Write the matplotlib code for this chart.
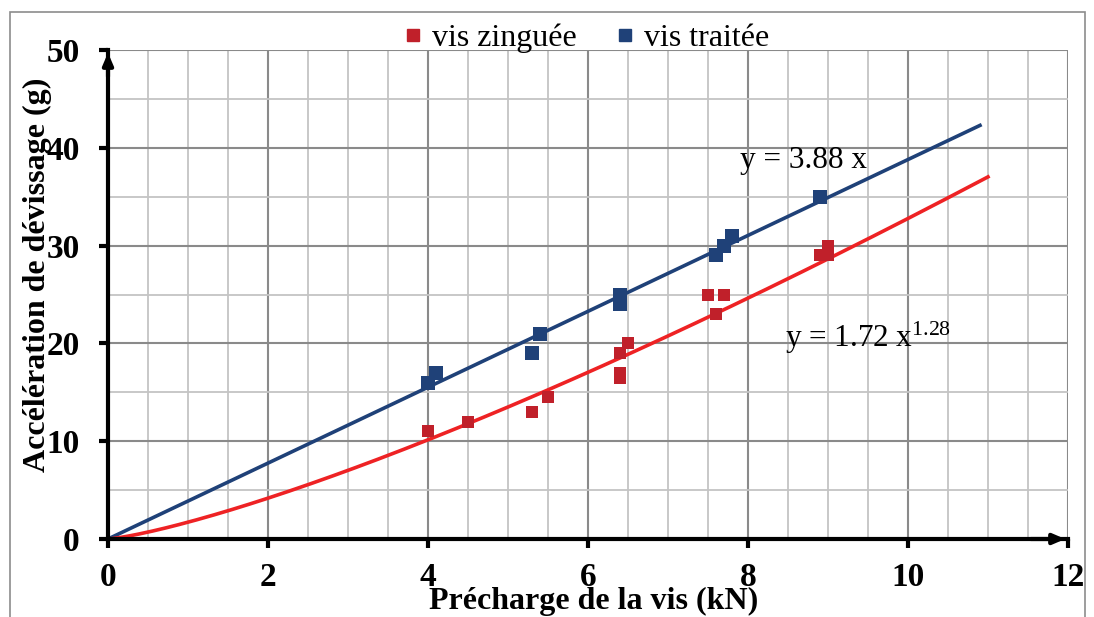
import matplotlib.pyplot as plt
import numpy as np
from matplotlib.patches import Rectangle
from matplotlib.lines import Line2D

plt.rcParams['font.family'] = ['Liberation Serif', 'DejaVu Serif']
plt.rcParams['mathtext.fontset'] = 'custom'
plt.rcParams['mathtext.rm'] = 'Liberation Serif'
plt.rcParams['mathtext.it'] = 'Liberation Serif:italic'

# vis zinguee (red squares)
x_zing = [4.0, 4.5, 5.3, 5.5, 6.4, 6.4, 6.4, 6.5, 7.5, 7.6, 7.7, 8.9, 9.0, 9.0]
y_zing = [11, 12, 13, 14.5, 19, 17, 16.5, 20, 25, 23, 25, 29, 30, 29]

# vis traitee (blue squares)
x_trait = [4.0, 4.1, 5.3, 5.4, 6.4, 6.4, 7.6, 7.7, 7.8, 8.9]
y_trait = [16, 17, 19, 21, 25, 24, 29, 30, 31, 35]

# trendlines as printed on the chart
a_trait = 3.88
a_zing, b_zing = 1.72, 1.28
x_end_trait = 10.9
x_end_zing = 11.0

red_pt = '#c0202a'
red_line = '#ee2224'
blue = '#1f4178'

fig = plt.figure(figsize=(10.94, 6.17), dpi=100)
ax = fig.add_axes([108/1094, 78/617, 960/1094, 489/617])

# outer frame
fig.patches.append(Rectangle((10/1094, -0.1), 1075/1094, 0.1 + 605/617,
                             transform=fig.transFigure, fill=False,
                             edgecolor='#8c8c8c', lw=1.2, zorder=0))

xt = np.linspace(0, x_end_trait, 200)
xz = np.linspace(0, x_end_zing, 200)
ax.plot(xt, a_trait * xt, color=blue, lw=2.6, zorder=3)
ax.plot(xz, a_zing * xz ** b_zing, color=red_line, lw=2.6, zorder=3)

ax.scatter(x_zing, y_zing, marker='s', s=65, color=red_pt, zorder=4, linewidths=0)
ax.scatter(x_trait, y_trait, marker='s', s=95, color=blue, zorder=4, linewidths=0)

ax.set_xlim(0, 12)
ax.set_ylim(0, 50)
ax.set_xticks(np.arange(0, 13, 2))
ax.set_yticks(np.arange(0, 51, 10))
ax.set_xticks(np.arange(0, 12.01, 0.5), minor=True)
ax.set_yticks(np.arange(0, 50.01, 5), minor=True)
ax.grid(which='minor', color='#c4c4c4', lw=1.3, zorder=0)
ax.grid(which='major', color='#8a8a8a', lw=1.5, zorder=0)
ax.tick_params(which='major', direction='out', length=6.5, width=3, labelsize=24)
ax.tick_params(axis='x', which='major', pad=10)
ax.tick_params(axis='y', which='major', pad=14)
ax.tick_params(which='minor', length=0)
for lab in ax.get_xticklabels() + ax.get_yticklabels():
    lab.set_fontweight('bold')

for s in ['top', 'right']:
    ax.spines[s].set_visible(False)
for s in ['left', 'bottom']:
    ax.spines[s].set_linewidth(3)
    ax.spines[s].set_zorder(5)

# axis arrows
ax.annotate('', xy=(12, 0), xytext=(11.5, 0),
            arrowprops=dict(arrowstyle='-|>,head_length=0.7,head_width=0.3', color='black', lw=3),
            annotation_clip=False, zorder=6)
ax.annotate('', xy=(0, 50), xytext=(0, 47),
            arrowprops=dict(arrowstyle='-|>,head_length=0.7,head_width=0.3', color='black', lw=3),
            annotation_clip=False, zorder=6)

ax.set_xlabel('Précharge de la vis (kN)', fontsize=23, fontweight='bold')
ax.xaxis.set_label_coords(0.506, -0.098)
ax.set_ylabel('Accélération de dévissage (g)', fontsize=23, fontweight='bold')
ax.yaxis.set_label_coords(-0.058, 0.54)

ax.text(7.9, 37.9, 'y = 3.88 x', fontsize=22.5, zorder=6)
ax.text(8.46, 19.6, 'y = 1.72 x$^{1.28}$', fontsize=22.5, zorder=6)

handles = [Line2D([], [], marker='s', ls='', color=red_pt, markersize=8),
           Line2D([], [], marker='s', ls='', color=blue, markersize=9)]
fig.legend(handles, ['vis zinguée', 'vis traitée'], loc='center', ncol=2,
           bbox_to_anchor=(0.533, 0.938), frameon=False, fontsize=23,
           handletextpad=0.1, columnspacing=1.0, handlelength=1.0)

fig.savefig('out.png', dpi=100)
